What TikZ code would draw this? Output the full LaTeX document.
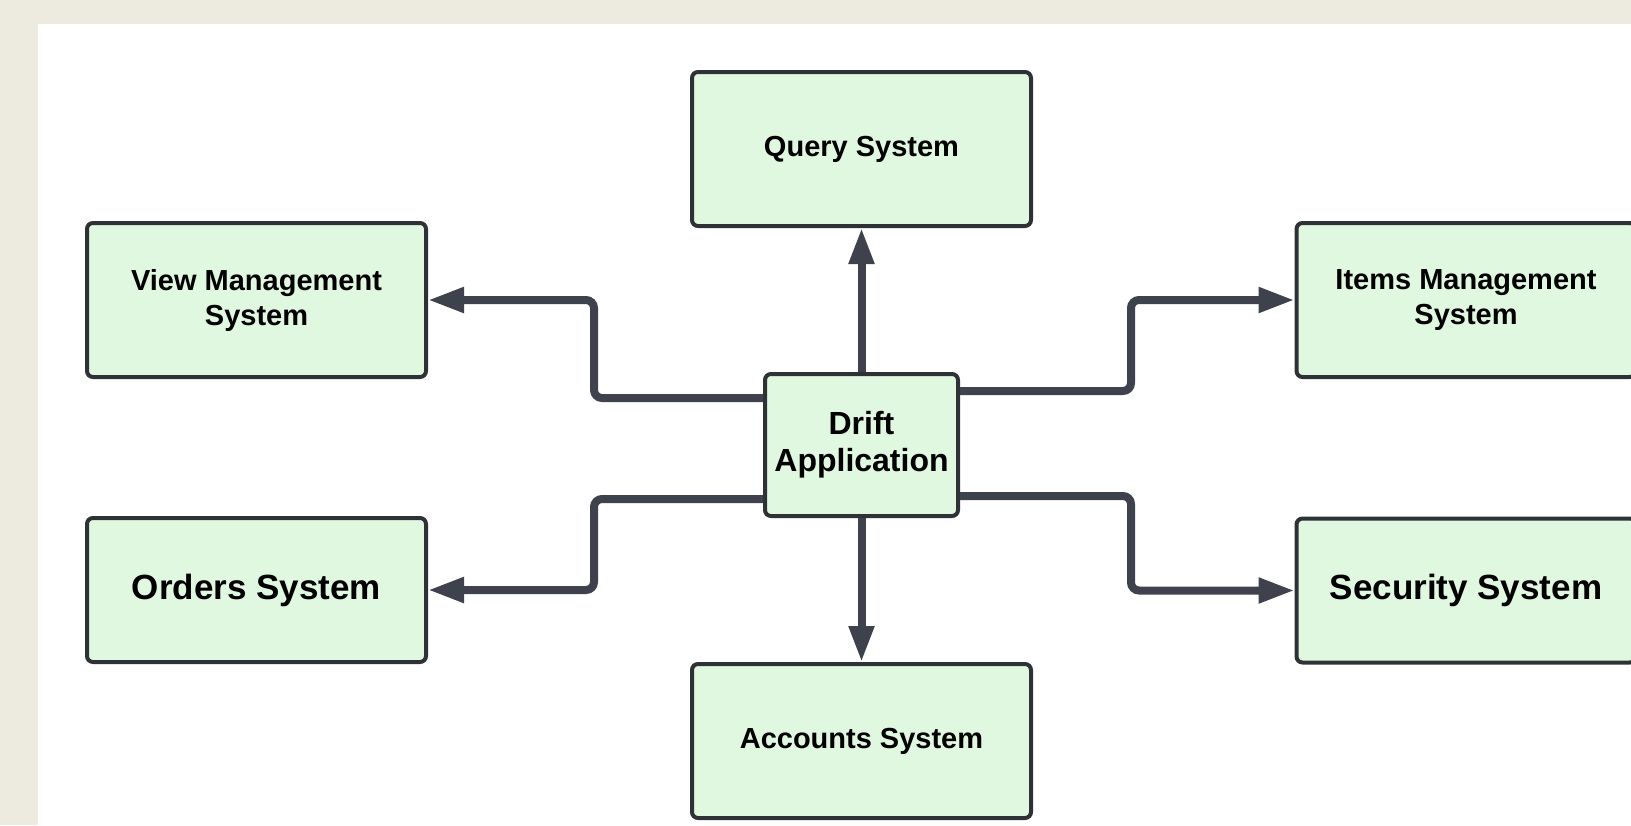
\documentclass[tikz,border=0pt]{standalone}
\usepackage{fontspec}
\setmainfont{Liberation Sans}
\usepackage{xcolor}
\usetikzlibrary{arrows.meta, positioning}

\definecolor{pagebeige}{HTML}{EDEBE0}
\definecolor{boxfill}{HTML}{E0F8E0}
\definecolor{boxline}{HTML}{2E3236}
\definecolor{linkgray}{HTML}{3D424C}

\begin{document}
\begin{tikzpicture}[
  x=1pt, y=-1pt,
  node distance=144pt,
  box/.style={rectangle, draw=boxline, fill=boxfill, line width=4pt, rounded corners=6pt, minimum width=339pt, minimum height=154pt, align=center, font=\bfseries\fontsize{29}{35}\selectfont},
  bigbox/.style={box, minimum height=144pt, font=\bfseries\fontsize{35}{42}\selectfont},
  hub/.style={box, minimum width=193pt, minimum height=142pt, font=\bfseries\fontsize{32}{37}\selectfont},
  arrow/.style={-{Triangle[length=36pt, width=24pt]}, draw=linkgray, line width=8pt, rounded corners=8pt}
]
  % page and panel
  \fill[pagebeige] (0,0) rectangle (1631,825);
  \fill[white] (38,24) rectangle (1631,825);
  \useasboundingbox (0,0) rectangle (1631,825);

  \node[hub] (app) at (861.5,445) {Drift\\Application};
  \node[box, above=of app] (query) {Query System};
  \node[box, below=of app] (accounts) {Accounts System};
  \node[box] (view) at (256.5,300) {View Management\\System};
  \node[bigbox] (orders) at (256.5,590) {Orders System};
  \node[box] (items) at (1466,300) {Items Management\\System};
  \node[bigbox] (security) at (1466,590.5) {Security System};

  \draw[arrow] (app) -- (query);
  \draw[arrow] (app) -- (accounts);
  \draw[arrow] ([yshift=-26pt]app.north west) -- ++(-169pt,0pt) |- (view.east);
  \draw[arrow] ([yshift=19pt]app.south west) -- ++(-169pt,0pt) |- (orders.east);
  \draw[arrow] ([yshift=-19pt]app.north east) -- ++(171pt,0pt) |- (items.west);
  \draw[arrow] ([yshift=22pt]app.south east) -- ++(171pt,0pt) |- (security.west);
\end{tikzpicture}
\end{document}
